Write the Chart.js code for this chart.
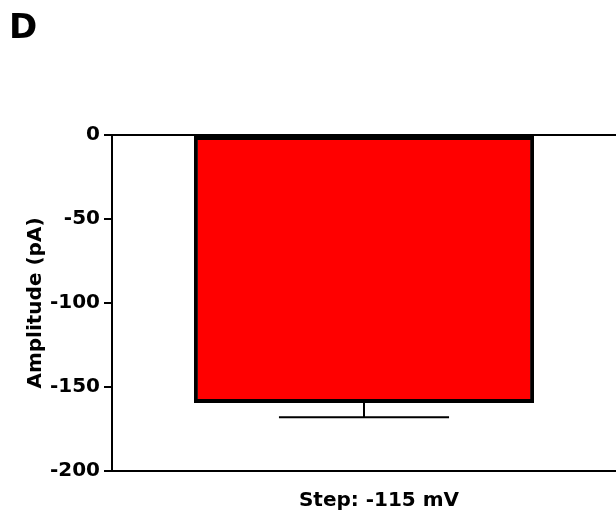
<!DOCTYPE html>
<html>
<head>
<meta charset="utf-8">
<script src="https://cdn.jsdelivr.net/npm/chart.js@4.4.1/dist/chart.umd.min.js"></script>
<style>
  html, body { margin: 0; padding: 0; background: #fff; }
  #wrap { width: 616px; height: 526px; position: relative; }
</style>
</head>
<body>
<div id="wrap"><canvas id="c" width="616" height="526"></canvas></div>
<script>
const panelLabel = 'D';
const categories = ['Step: -115 mV'];
const amplitudes = [-159.5];
const errors = [8.5];
const yTickMin = -200;
const yTickMax = 0;
const yTickStep = 50;
const yTitle = 'Amplitude (pA)';

const FONT = 'DejaVu Sans';

const errorBarPlugin = {
  id: 'errorBars',
  afterDatasetsDraw(chart) {
    const ctx = chart.ctx;
    const meta = chart.getDatasetMeta(0);
    const yScale = chart.scales.y;
    ctx.save();
    ctx.strokeStyle = '#000';
    ctx.lineWidth = 2;
    meta.data.forEach((bar, i) => {
      const v = amplitudes[i];
      const e = errors[i];
      const yStart = yScale.getPixelForValue(v);
      const yEnd = yScale.getPixelForValue(v - e);
      const half = bar.width / 4;
      ctx.beginPath();
      ctx.moveTo(bar.x, yStart);
      ctx.lineTo(bar.x, yEnd);
      ctx.moveTo(bar.x - half, yEnd);
      ctx.lineTo(bar.x + half, yEnd);
      ctx.stroke();
    });
    ctx.restore();
  }
};

const panelLabelPlugin = {
  id: 'panelLabel',
  afterDraw(chart) {
    const ctx = chart.ctx;
    ctx.save();
    ctx.fillStyle = '#000';
    ctx.font = 'bold 34px "' + FONT + '"';
    ctx.textBaseline = 'alphabetic';
    ctx.textAlign = 'left';
    ctx.fillText(panelLabel, 9, 38);
    ctx.restore();
  }
};

new Chart(document.getElementById('c'), {
  type: 'bar',
  data: {
    labels: categories,
    datasets: [{
      data: amplitudes,
      backgroundColor: '#ff0000',
      borderColor: '#000',
      borderWidth: 4,
      borderSkipped: false,
      barPercentage: 0.675,
      categoryPercentage: 1.0
    }]
  },
  options: {
    responsive: false,
    animation: false,
    devicePixelRatio: 1,
    layout: { padding: { top: 135, right: 0, bottom: 0, left: 0 } },
    plugins: {
      legend: { display: false },
      tooltip: { enabled: false },
      title: { display: false }
    },
    scales: {
      x: {
        type: 'category',
        grid: { display: false, drawTicks: false },
        border: { display: true, color: '#000', width: 2 },
        ticks: {
          color: '#000',
          padding: 18,
          labelOffset: 15,
          font: { family: FONT, size: 20, weight: 'bold' }
        },
        afterFit(scale) { scale.height = 55; }
      },
      y: {
        min: yTickMin,
        max: yTickMax,
        ticks: {
          stepSize: yTickStep,
          color: '#000',
          padding: 4,
          font: { family: FONT, size: 20, weight: 'bold' }
        },
        grid: {
          color: (c) => (c.tick && c.tick.value === 0) ? '#000' : 'rgba(0,0,0,0)',
          lineWidth: 2,
          tickColor: '#000',
          tickLength: 8,
          tickWidth: 2,
          drawTicks: true
        },
        border: { display: true, color: '#000', width: 2 },
        title: {
          display: true,
          text: yTitle,
          color: '#000',
          padding: { top: 24, bottom: 0 },
          font: { family: FONT, size: 20, weight: 'bold' }
        },
        afterFit(scale) { scale.width = 112; }
      }
    }
  },
  plugins: [errorBarPlugin, panelLabelPlugin]
});
</script>
</body>
</html>
